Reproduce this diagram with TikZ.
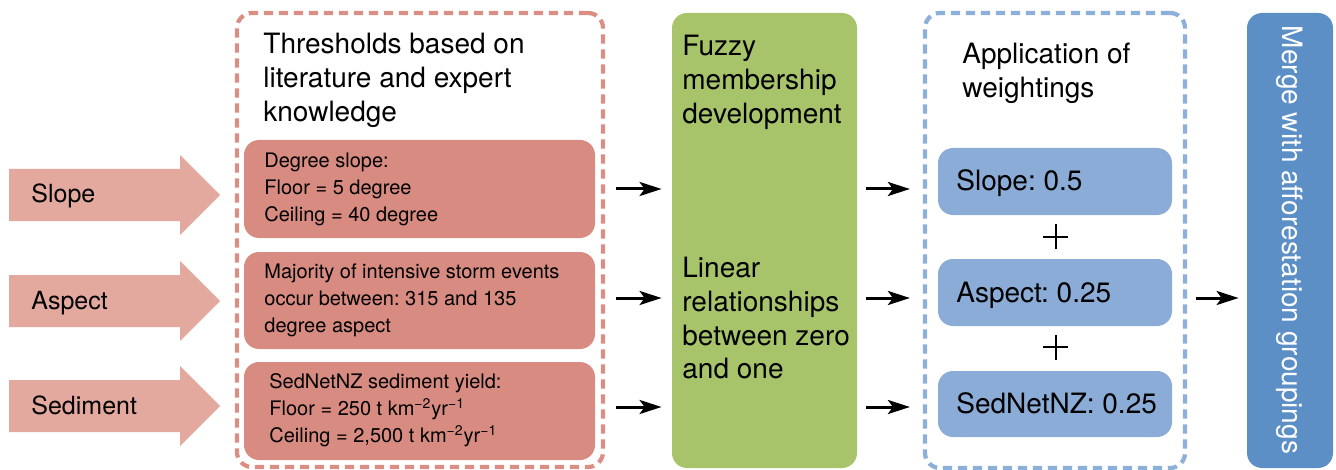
\documentclass[tikz,border=0pt]{standalone}
\usepackage{fontspec}
\setmainfont{TeX Gyre Heros}
\usetikzlibrary{arrows.meta}
\definecolor{inpink}{HTML}{E3A99F}
\definecolor{redbox}{HTML}{D88B80}
\definecolor{reddash}{HTML}{DA8E84}
\definecolor{greenbox}{HTML}{A8C46B}
\definecolor{bluebox}{HTML}{8AACD6}
\definecolor{bluedash}{HTML}{8DB0DA}
\definecolor{mergeblue}{HTML}{5B8FC6}
\frenchspacing
\begin{document}
\begin{tikzpicture}[x=0.5pt,y=-0.5pt,
  big/.style={font=\fontsize{14}{16.8}\selectfont},
  small/.style={font=\fontsize{10}{13.5}\selectfont},
  txt/.style={inner sep=0, anchor=north west, align=left},
  group/.style={draw, line width=2.1pt, dash pattern=on 4.6pt off 2.9pt,
    rounded corners=7.5pt, minimum height=227pt, inner sep=0},
  rbox/.style={fill=redbox, rounded corners=7.5pt, minimum width=175.5pt,
    minimum height=49pt, inner sep=0},
  bbox/.style={fill=bluebox, rounded corners=7.5pt, minimum width=117pt,
    minimum height=33.5pt, inner sep=0},
  link/.style={-{Stealth[length=11pt,width=7pt,inset=2.5pt]}, line width=1.5pt},
  plusbar/.style={line width=1pt}]
\useasboundingbox (0,0) rectangle (1336,470);

% input arrows
\foreach \y/\lab/\nm in {195/Slope/inslope, 301/Aspect/inaspect, 406/Sediment/insed}{
  \fill[inpink] (9,\y-26) -- (180,\y-26) -- (180,\y-40) -- (220,\y)
    -- (180,\y+40) -- (180,\y+26) -- (9,\y+26) -- cycle;
  \node[inner sep=0, anchor=base west, font=\fontsize{12.5}{15}\selectfont]
    (\nm) at (31,\y+8) {\lab};
}

% thresholds group
\node[group, draw=reddash, minimum width=183pt] (redc) at (420,240) {};
\node[txt, big] (thr) at (263,33) {Thresholds based on\\literature and expert\\knowledge};
\node[rbox] (b1) at (419.5,189) {};
\node[rbox, minimum height=48.5pt] (b2) at (419.5,300.5) {};
\node[rbox] (b3) at (419.5,411) {};
\node[txt, small] (t1) at (264,153) {Degree slope:\\Floor = 5 degree\\Ceiling = 40 degree};
\node[txt, small] (t2) at (264,263.5) {Majority of intensive storm events\\occur between: 315 and 135\\degree aspect};
\node[txt, small] (t3) at (269,373.5) {SedNetNZ sediment yield:\\Floor = 250 t km\textsuperscript{−2}yr\textsuperscript{−1}\\Ceiling = 2,500 t km\textsuperscript{−2}yr\textsuperscript{−1}};

% fuzzy membership
\node[fill=greenbox, rounded corners=7.5pt, minimum width=92.5pt,
  minimum height=227.5pt, inner sep=0] (green) at (764.5,240.5) {};
\node[txt, big] (fz) at (682,35) {Fuzzy\\membership\\development};
\node[txt, big] (lin) at (682,257) {Linear\\relationships\\between zero\\and one};

% weightings group
\node[group, draw=bluedash, minimum width=130pt, minimum height=227.5pt] (bluec) at (1055,240.5) {};
\node[txt, big] (app) at (962,43) {Application of\\weightings};
\node[bbox] (w1) at (1055,181.5) {};
\node[bbox] (w2) at (1055,292.5) {};
\node[bbox, minimum height=33pt] (w3) at (1055,404) {};
\node[inner sep=0, anchor=base west, big] (wt1) at (956,191) {Slope: 0.5};
\node[inner sep=0, anchor=base west, big] (wt2) at (956,302) {Aspect: 0.25};
\node[inner sep=0, anchor=base west, big] (wt3) at (956,413) {SedNetNZ: 0.25};
\coordinate (p1) at (1055.5,236.5);
\coordinate (p2) at (1055.5,347);
\foreach \p in {p1,p2}{
  \draw[plusbar] ([xshift=-6.25pt]\p) -- ([xshift=6.25pt]\p);
  \draw[plusbar] ([yshift=-6.25pt]\p) -- ([yshift=6.25pt]\p);
}

% merge
\node[fill=mergeblue, rounded corners=7.5pt, minimum width=43pt,
  minimum height=227.5pt, inner sep=0] (merge) at (1290,240.5) {};
\node[inner sep=0, anchor=base, rotate=-90, text=white, big] (mt) at (1282,240) {Merge with afforestation groupings};

% connectors
\coordinate (r1) at (0,189);
\coordinate (r2) at (0,298);
\coordinate (r3) at (0,407);
\foreach \r in {r1,r2,r3}{
  \draw[link] ([xshift=5.5pt]redc.east |- \r) -- ([xshift=-5pt]green.west |- \r);
  \draw[link] ([xshift=4.5pt]green.east |- \r) -- ([xshift=-6.5pt]bluec.west |- \r);
}
\draw[link] ([xshift=4.5pt]bluec.east |- r2) -- ([xshift=-4pt]merge.west |- r2);
\end{tikzpicture}
\end{document}
